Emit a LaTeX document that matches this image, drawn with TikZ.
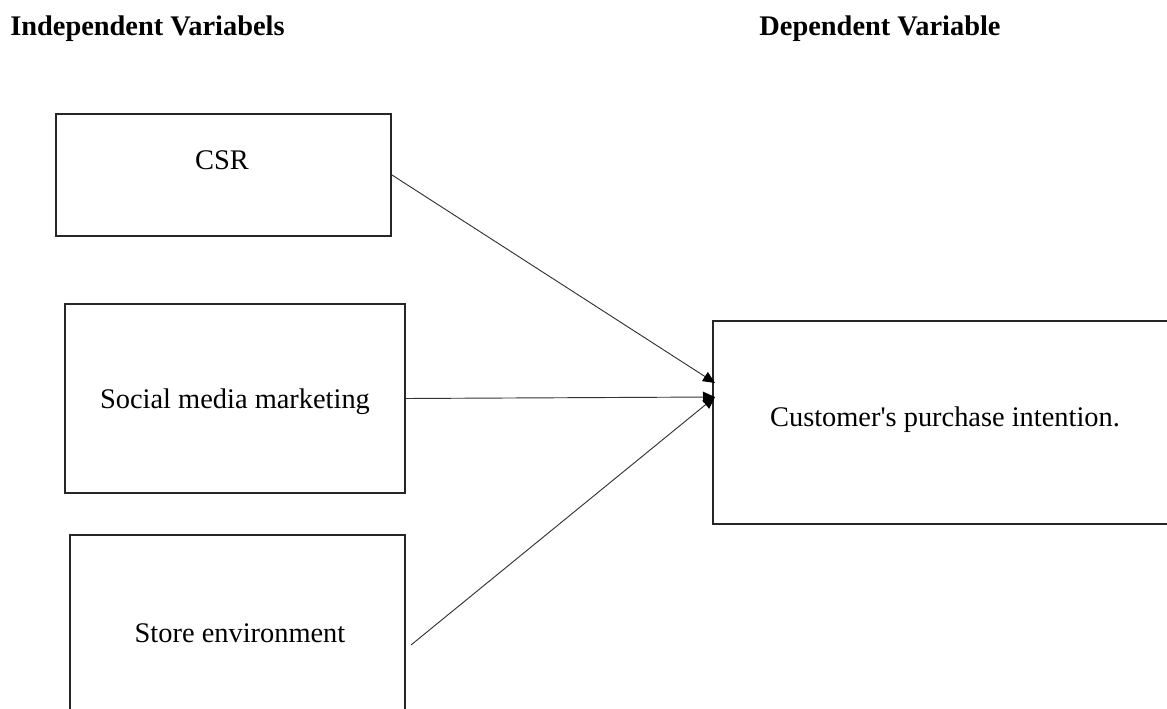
\documentclass[tikz,border=0pt]{standalone}
\usepackage{fontspec}
\setmainfont{Liberation Serif}
\usetikzlibrary{arrows.meta,calc}
\tikzset{
  box/.style={draw=black!85, line width=1.5pt, rectangle, inner sep=0pt},
  heading/.style={font=\bfseries\fontsize{21.3}{25}\selectfont, inner sep=0pt},
  boxtext/.style={font=\fontsize{21.3}{25}\selectfont, inner sep=0pt},
  link/.style={draw=black!80, line width=0.7pt, -{Triangle[length=9pt,width=8pt,black]}}
}

\begin{document}
\begin{tikzpicture}[x=0.75pt, y=-0.75pt]
                \useasboundingbox (0, 0) rectangle (1167, 709);
                \clip (0, 0) rectangle (1167, 709);
                % headings
                \node [heading, anchor=west] (indep) at (10, 29) {Independent Variabels};
                \node [heading] (dep) at (880, 29) {Dependent Variable};
                % boxes
                \node [box, minimum width=251.25pt, minimum height=91.5pt] (csr) at (223.5, 175) {};
                \node [box, minimum width=255pt, minimum height=141.75pt] (smm) at (235, 398.5) {};
                \node [box, minimum width=251.25pt, minimum height=150pt] (store) at (237.5, 635) {};
                \node [box, minimum width=352.5pt, minimum height=152.25pt] (cpi) at (948, 422.5) {};
                % texts
                \node [boxtext] (csrtext) at (222, 160) {CSR};
                \node [boxtext] (smmtext) at (235, 402) {Social media marketing};
                \node [boxtext] (storetext) at (240, 633) {Store environment};
                \node [boxtext] (cpitext) at (945, 420) {Customer\textquotesingle s purchase intention.};
                % arrows
                \coordinate (in1) at (715, 383);
                \coordinate (in2) at (715, 397);
                \coordinate (out3) at ($(store.east)+(5, 10)$);
                \draw [link] (csr.east) -- (in1);
                \draw [link] (smm.east) -- (in2);
                \draw [link] (out3) -- (in2);
            \end{tikzpicture}
\end{document}
